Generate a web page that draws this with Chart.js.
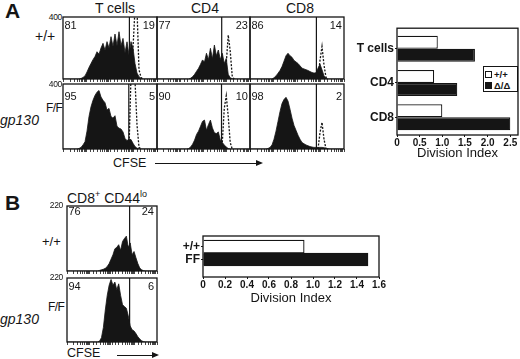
<!DOCTYPE html>
<html lang="en">
<head>
<meta charset="UTF-8">
<meta name="viewport" content="width=device-width, initial-scale=1.0">
<title>gp130 CFSE division</title>
<script src="https://cdn.jsdelivr.net/npm/chart.js"></script>
<style>
    body {
        margin: 0;
        width: 520px;
        height: 359px;
        position: relative;
        overflow: hidden;
        background: #fff;
        color: #151515;
        font-family: "Liberation Sans", Arial, sans-serif;
    }
    .t { position: absolute; white-space: nowrap; line-height: 1; }
    canvas { position: absolute; }
    .big { font-size: 21px; font-weight: bold; }
    .ttl { font-size: 14px; width: 80px; text-align: center; }
    .row { font-size: 14px; }
    .gp { font-size: 14px; font-style: italic; }
    .ff { font-size: 12px; letter-spacing: -0.6px; }
    .ymax { font-size: 8.5px; width: 20px; text-align: right; letter-spacing: -0.3px; }
    .pct { font-size: 11px; }
    .cfse { font-size: 12.5px; }
    .arrow { position: absolute; height: 0; border-top: 1.2px solid #151515; }
    .arrow::after {
        content: ""; position: absolute; right: -2px; top: -4.1px;
        border-left: 7px solid #151515; border-top: 3.5px solid transparent; border-bottom: 3.5px solid transparent;
    }
    .legend { position: absolute; border: 1px solid #151515; background: #fff; font-size: 9.5px; font-weight: bold; }
    .legend div { position: absolute; left: 1px; line-height: 1; }
    .legend span { display: inline-block; width: 5px; height: 5px; border: 1px solid #151515; margin-right: 2px; vertical-align: 0; }
</style>
</head>
<body>
<div class="t big" style="left:5px;top:0px">A</div>
<div class="t big" style="left:5px;top:192px">B</div>

<div class="t ttl" style="left:75px;top:0.5px">T cells</div>
<div class="t ttl" style="left:165px;top:0.5px">CD4</div>
<div class="t ttl" style="left:260px;top:0.5px">CD8</div>
<div class="t" style="left:67px;top:191px;font-size:14px">CD8<sup style="font-size:9px;line-height:0">+</sup> CD44<sup style="font-size:9px;line-height:0">lo</sup></div>

<div class="t row" style="left:35px;top:29px">+/+</div>
<div class="t gp" style="left:0px;top:113px">gp130</div>
<div class="t ff" style="left:46px;top:102px">F/F</div>

<div class="t row" style="left:42px;top:235px;font-size:13px">+/+</div>
<div class="t gp" style="left:0px;top:312px">gp130</div>
<div class="t ff" style="left:48px;top:301px">F/F</div>

<div class="t cfse" style="left:113px;top:157px">CFSE</div>
<div class="arrow" style="left:155px;top:163px;width:106px"></div>
<div class="t cfse" style="left:67px;top:347px">CFSE</div>
<div class="arrow" style="left:117px;top:355px;width:40px"></div>

<div class="legend" style="left:483px;top:66px;width:33px;height:24px">
    <div style="top:3px"><span style="background:#fff"></span>+/+</div>
    <div style="top:14px"><span style="background:#151515"></span>Δ/Δ</div>
</div>

<script>
    // CFSE histograms, cell counts in 48 bins along the CFSE axis (high division on the left)
    const wtT  = [0,0,0,0,0,0,0,0,0,3,10,20,45,75,100,125,145,176,160,200,230,185,241,200,273,210,290,215,305,215,262,170,240,155,241,200,100,38,15,4,0,0,0,0,0,0,0,0];
    const wtCD4 = [0,0,0,0,0,0,0,0,0,0,0,0,0,0,0,0,0,5,15,30,50,69,95,123,110,166,125,198,130,219,150,187,125,166,100,133,30,8,2,0,0,0,0,0,0,0,0,0];
    const wtCD8 = [0,0,0,0,0,0,0,0,0,0,0,0,8,20,37,55,80,115,150,166,150,140,120,110,100,85,70,65,60,55,48,42,38,40,70,95,60,20,5,0,0,0,0,0,0,0,0,0];
    const koT  = [0,0,0,0,0,0,0,0,3,10,25,45,110,200,260,300,330,350,360,320,300,285,240,250,200,190,205,140,128,123,105,65,52,60,58,35,15,5,1,0,0,0,0,0,0,0,0,0];
    const koCD4 = [0,0,0,0,0,0,0,0,0,0,0,0,0,0,0,0,3,12,30,55,90,110,140,170,178,115,150,178,130,100,95,105,55,40,25,12,3,0,0,0,0,0,0,0,0,0,0,0];
    const koCD8 = [0,0,0,0,0,0,0,0,0,3,10,25,60,110,170,230,280,305,318,295,245,190,145,115,85,60,40,32,25,20,15,12,10,10,10,10,10,8,5,2,0,0,0,0,0,0,0,0];

    // undivided control peaks (dashed), [bin, count]
    const wtTUndiv  = [[34,0],[35,200],[36,450],[37,450],[38,60],[39,10],[40,0]];
    const wtCD4Undiv = [[34,0],[35,100],[36,284],[37,180],[38,20],[39,0]];
    const wtCD8Undiv = [[34,0],[35,120],[36,210],[37,90],[38,10],[39,0]];
    const koTUndiv  = [[33,0],[34,450],[35,450],[36,420],[37,150],[38,10],[39,0]];
    const koCD4Undiv = [[32,0],[33,40],[34,250],[35,328],[36,200],[37,40],[38,0]];
    const koCD8Undiv = [[34,0],[35,100],[36,164],[37,60],[38,0]];

    // CD8+ CD44lo histograms
    const wtLo = [0,0,0,0,0,0,0,0,0,0,0,0,0,0,0,0,0,2,4,6,9,15,25,40,55,75,80,89,70,100,110,118,80,95,55,66,45,25,10,4,1,0,0,0,0,0,0,0];
    const koLo = [0,0,0,0,0,0,0,0,0,0,0,0,0,0,0,0,0,3,15,50,110,160,195,215,195,206,180,200,160,128,122,116,90,55,42,38,29,18,10,4,1,0,0,0,0,0,0,0];

    const gatesA = [[33.2, 32.7, 33.2], [32.9, 32.6, 33.2]];
    const gatesB = [32.7, 32.7];
    const pctA = [[[81, 19], [77, 23], [86, 14]], [[95, 5], [90, 10], [98, 2]]];
    const pctB = [[76, 24], [94, 6]];
    const yMaxA = 400;
    const yMaxB = 220;

    // division index
    const divCats = ['T cells', 'CD4', 'CD8'];
    const divWt = [0.9, 0.82, 1.0];
    const divKo = [1.72, 1.33, 2.5];
    const divTicks = [0, 0.5, 1, 1.5, 2, 2.5];
    const loCats = ['+/+', 'FF'];
    const loDiv = [0.92, 1.5];
    const loTicks = [0, 0.2, 0.4, 0.6, 0.8, 1, 1.2, 1.4, 1.6];

    const ink = '#151515';

    const frame = {
        id: 'frame',
        afterDatasetsDraw(chart) {
            const a = chart.chartArea, ctx = chart.ctx;
            ctx.save();
            ctx.strokeStyle = ink;
            ctx.lineWidth = 1.3;
            ctx.strokeRect(a.left, a.top, a.right - a.left, a.bottom - a.top);
            ctx.restore();
        }
    };

    function place(left, top, w, h) {
        const c = document.createElement('canvas');
        c.width = w; c.height = h;
        c.style.left = left + 'px'; c.style.top = top + 'px';
        c.style.width = w + 'px'; c.style.height = h + 'px';
        document.body.appendChild(c);
        return c;
    }

    function text(str, cls, left, top, right) {
        const d = document.createElement('div');
        d.className = 't ' + cls;
        d.textContent = str;
        d.style.top = top + 'px';
        if (right != null) d.style.right = (520 - right) + 'px';
        else d.style.left = left + 'px';
        document.body.appendChild(d);
    }

    function histogram(box, counts, undiv, gate, ymax) {
        const sets = [{
            data: counts.map((v, i) => ({x: i, y: v})),
            xAxisID: 'x', fill: 'origin', backgroundColor: ink, borderColor: ink,
            borderWidth: 0.8, pointRadius: 0, tension: 0
        }];
        if (undiv) sets.push({
            data: undiv.map(p => ({x: p[0], y: p[1]})),
            xAxisID: 'x', fill: false, borderColor: ink, borderWidth: 1.3,
            borderDash: [2, 1.5], pointRadius: 0, tension: 0
        });
        sets.push({
            data: [{x: gate, y: 0}, {x: gate, y: ymax}],
            xAxisID: 'x', borderColor: ink, borderWidth: 1.2, pointRadius: 0
        });
        new Chart(place(box.x - 1, box.y - 1, box.w + 2, box.h + 4), {
            type: 'line',
            data: { datasets: sets },
            options: {
                responsive: false,
                animation: false,
                layout: { padding: { left: 1, right: 1, top: 1, bottom: 0 } },
                plugins: { legend: { display: false }, tooltip: { enabled: false } },
                scales: {
                    x: { type: 'linear', min: 0, max: 47, display: false },
                    y: { min: 0, max: ymax, display: false },
                    cfse: {
                        type: 'logarithmic', axis: 'x', position: 'bottom', min: 1, max: 10000,
                        ticks: { display: false },
                        border: { display: false },
                        grid: { drawOnChartArea: false, tickLength: 3, color: ink, lineWidth: 0.8 }
                    }
                }
            },
            plugins: [frame]
        });
    }

    const colsA = [{x: 63, w: 94}, {x: 157, w: 93}, {x: 250, w: 94}];
    const rowsA = [{y: 17, h: 62, ly: 20}, {y: 84, h: 65, ly: 90.5}];
    const countsA = [[wtT, wtCD4, wtCD8], [koT, koCD4, koCD8]];
    const undivA = [[wtTUndiv, wtCD4Undiv, wtCD8Undiv], [koTUndiv, koCD4Undiv, koCD8Undiv]];

    rowsA.forEach((r, ri) => {
        text(String(yMaxA), 'ymax', 42, r.y - 4.5);
        colsA.forEach((c, ci) => {
            histogram({x: c.x, y: r.y, w: c.w, h: r.h}, countsA[ri][ci], undivA[ri][ci], gatesA[ri][ci], yMaxA);
            text(String(pctA[ri][ci][0]), 'pct', c.x + 1.5, r.ly);
            text(String(pctA[ri][ci][1]), 'pct', null, r.ly, c.x + c.w - 2);
        });
    });

    const colB = {x: 67, w: 90};
    const rowsB = [{y: 206, h: 65, ly: 205.5}, {y: 278, h: 64, ly: 280.5}];
    const countsB = [wtLo, koLo];
    rowsB.forEach((r, ri) => {
        text(String(yMaxB), 'ymax', 43, r.y - 5);
        histogram({x: colB.x, y: r.y, w: colB.w, h: r.h}, countsB[ri], null, gatesB[ri], yMaxB);
        text(String(pctB[ri][0]), 'pct', colB.x + 1.5, r.ly);
        text(String(pctB[ri][1]), 'pct', null, r.ly, colB.x + colB.w - 3);
    });

    function divisionChart(canvas, datasets, cats, ticks, xMax, yMin, yMax, yWidth, xHeight, pad) {
        new Chart(canvas, {
            type: 'bar',
            data: { datasets: datasets },
            options: {
                indexAxis: 'y',
                responsive: false,
                animation: false,
                layout: { padding: pad },
                plugins: { legend: { display: false }, tooltip: { enabled: false } },
                scales: {
                    x: {
                        type: 'linear', min: 0, max: xMax,
                        afterBuildTicks: s => { s.ticks = ticks.map(v => ({value: v})); },
                        afterFit: s => { s.height = xHeight; },
                        grid: { drawOnChartArea: false, tickLength: 2, color: ink },
                        border: { display: false },
                        ticks: { autoSkip: false, maxRotation: 0, padding: 0, color: ink, font: { family: 'Liberation Sans', size: 10, weight: 'bold' } },
                        title: { display: true, text: 'Division Index', color: ink, padding: { top: 0, bottom: 4 }, font: { family: 'Liberation Sans', size: 13 } }
                    },
                    y: {
                        type: 'linear', reverse: true, min: yMin, max: yMax, offset: false,
                        afterBuildTicks: s => { s.ticks = cats.map((_, i) => ({value: i + 1})); },
                        afterFit: s => { s.width = yWidth; },
                        grid: { drawOnChartArea: false, offset: false, tickLength: 2, color: ink },
                        border: { display: false },
                        ticks: { autoSkip: false, padding: 1, color: ink, callback: v => cats[v - 1], font: { family: 'Liberation Sans', size: 12, weight: 'bold' } }
                    }
                }
            },
            plugins: [frame]
        });
    }

    divisionChart(place(340, 20, 180, 145), [
        { label: '+/+', data: divWt.map((v, i) => ({x: v, y: i + 1})), backgroundColor: '#fff', borderColor: ink, borderWidth: 1.2, categoryPercentage: 0.76, barPercentage: 1 },
        { label: 'Δ/Δ', data: divKo.map((v, i) => ({x: v, y: i + 1})), backgroundColor: ink, borderColor: ink, borderWidth: 1.2, categoryPercentage: 0.76, barPercentage: 1 }
    ], divCats, divTicks, 2.67, 0.4, 3.52, 57, 30, { top: 6, right: 2, left: 0, bottom: 0 });

    divisionChart(place(180, 225, 210, 85), [
        { data: loDiv.map((v, i) => ({x: v, y: i + 1})), backgroundColor: ['#fff', ink], borderColor: ink, borderWidth: 1.2, categoryPercentage: 1, barPercentage: 1 }
    ], loCats, loTicks, 1.6, 0.19, 3.35, 23, 33, { top: 11, right: 11, left: 0, bottom: 0 });
</script>
</body>
</html>
